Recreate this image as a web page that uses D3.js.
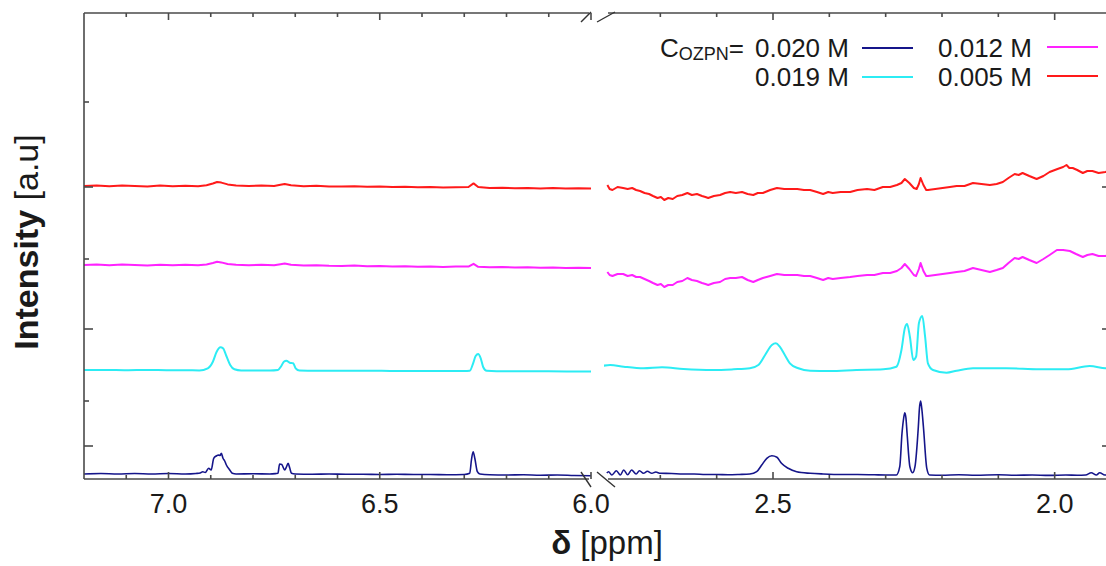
<!DOCTYPE html>
<html>
<head>
<meta charset="utf-8">
<script src="https://cdn.jsdelivr.net/npm/d3@7"></script>
<style>
  body { margin: 0; background: #fff; }
  svg { display: block; }
  text { font-family: "Liberation Sans", Arial, Helvetica, sans-serif; fill: #1a1a1a; }
</style>
</head>
<body>
<svg id="chart" width="1106" height="566"></svg>
<script>
// 1H NMR spectra of OZPN solutions, broken chemical-shift axis (7.2–6.0 | 2.8–1.9 ppm)

const concentrations = ["0.020 M", "0.019 M", "0.012 M", "0.005 M"];

// [chemical shift (ppm), intensity (a.u., stacked)]
const c020Left = [[7.20,0.50],[7.16,0.55],[7.12,0.50],[7.08,0.55],[7.04,0.50],[7.00,0.55],[6.96,0.50],[6.935,0.55],[6.925,0.60],[6.919,0.73],[6.913,0.65],[6.905,1.07],[6.899,0.90],[6.893,2.07],[6.887,2.30],[6.881,2.40],[6.878,2.35],[6.875,2.57],[6.871,2.07],[6.867,1.80],[6.863,1.40],[6.855,0.90],[6.849,0.57],[6.84,0.50],[6.80,0.52],[6.76,0.50],[6.745,0.55],[6.741,0.57],[6.737,1.50],[6.732,1.45],[6.725,0.90],[6.721,1.20],[6.717,1.57],[6.713,1.10],[6.709,0.57],[6.70,0.50],[6.66,0.48],[6.62,0.50],[6.58,0.47],[6.54,0.48],[6.50,0.45],[6.46,0.47],[6.42,0.45],[6.38,0.45],[6.34,0.43],[6.30,0.45],[6.287,0.57],[6.283,1.90],[6.279,2.73],[6.275,2.07],[6.269,0.73],[6.263,0.50],[6.24,0.42],[6.20,0.40],[6.16,0.42],[6.12,0.38],[6.08,0.40],[6.04,0.35],[6.00,0.32]];
const c020Right = [[2.795,0.60],[2.792,0.73],[2.786,0.40],[2.778,0.83],[2.771,0.40],[2.765,0.90],[2.758,0.43],[2.751,0.90],[2.743,0.50],[2.737,0.83],[2.730,0.57],[2.723,0.77],[2.715,0.57],[2.708,0.70],[2.700,0.57],[2.68,0.55],[2.66,0.50],[2.64,0.50],[2.62,0.45],[2.60,0.45],[2.58,0.42],[2.56,0.45],[2.541,0.50],[2.529,0.73],[2.520,1.40],[2.511,2.07],[2.502,2.33],[2.493,2.17],[2.485,1.57],[2.473,1.07],[2.458,0.73],[2.434,0.57],[2.411,0.50],[2.376,0.45],[2.35,0.45],[2.32,0.42],[2.30,0.40],[2.281,0.40],[2.275,1.23],[2.271,4.57],[2.268,6.10],[2.266,6.63],[2.264,6.10],[2.262,4.57],[2.257,1.23],[2.252,0.63],[2.248,1.23],[2.242,5.23],[2.240,7.10],[2.238,7.80],[2.236,7.10],[2.233,5.23],[2.227,1.07],[2.222,0.40],[2.20,0.38],[2.17,0.42],[2.14,0.38],[2.10,0.42],[2.07,0.38],[2.04,0.40],[2.01,0.36],[1.98,0.40],[1.96,0.38],[1.945,0.40],[1.935,0.63],[1.926,0.40],[1.920,0.63],[1.911,0.40],[1.90,0.45]];

const c019Left = [[7.20,10.90],[7.15,10.90],[7.10,10.88],[7.05,10.90],[7.00,10.88],[6.96,10.88],[6.927,10.85],[6.907,11.07],[6.895,11.73],[6.886,12.73],[6.877,13.17],[6.871,13.07],[6.863,12.30],[6.854,11.40],[6.844,10.97],[6.828,10.85],[6.80,10.85],[6.76,10.85],[6.741,10.90],[6.733,11.30],[6.727,11.73],[6.721,11.83],[6.713,11.63],[6.705,11.57],[6.699,11.07],[6.690,10.85],[6.65,10.83],[6.60,10.83],[6.55,10.82],[6.50,10.82],[6.45,10.80],[6.40,10.80],[6.35,10.80],[6.30,10.80],[6.287,10.83],[6.279,11.57],[6.273,12.30],[6.267,12.50],[6.261,12.07],[6.255,11.17],[6.247,10.83],[6.20,10.78],[6.15,10.78],[6.10,10.77],[6.05,10.75],[6.00,10.75]];
const c019Right = [[2.801,11.33],[2.789,11.40],[2.765,11.23],[2.730,11.07],[2.697,11.17],[2.659,11.00],[2.606,10.90],[2.570,10.97],[2.541,11.07],[2.526,11.40],[2.514,12.40],[2.502,13.40],[2.495,13.57],[2.488,13.23],[2.479,12.40],[2.470,11.57],[2.455,11.07],[2.434,10.83],[2.399,10.80],[2.352,10.90],[2.304,10.97],[2.281,11.23],[2.272,12.90],[2.266,15.07],[2.262,15.50],[2.257,14.23],[2.251,11.90],[2.246,12.23],[2.241,15.57],[2.235,16.30],[2.230,14.23],[2.225,11.57],[2.216,10.90],[2.192,10.63],[2.174,10.83],[2.145,11.07],[2.086,11.07],[2.027,10.97],[1.979,10.97],[1.938,11.30],[1.910,11.07],[1.90,11.05]];

const c012Left = [[7.20,21.40],[7.17,21.46],[7.14,21.38],[7.11,21.44],[7.08,21.40],[7.05,21.36],[7.02,21.43],[6.99,21.38],[6.96,21.42],[6.93,21.38],[6.91,21.45],[6.895,21.60],[6.885,21.72],[6.875,21.66],[6.86,21.50],[6.84,21.42],[6.81,21.38],[6.78,21.42],[6.75,21.38],[6.735,21.48],[6.725,21.55],[6.71,21.42],[6.68,21.34],[6.65,21.38],[6.62,21.32],[6.59,21.30],[6.56,21.34],[6.53,21.27],[6.50,21.30],[6.47,21.25],[6.44,21.28],[6.41,21.23],[6.38,21.26],[6.35,21.20],[6.32,21.24],[6.29,21.24],[6.278,21.52],[6.267,21.22],[6.24,21.18],[6.21,21.20],[6.18,21.14],[6.15,21.17],[6.12,21.12],[6.09,21.15],[6.06,21.10],[6.03,21.13],[6.00,21.10]];
const c012Right = [[2.794,20.7],[2.790,20.4],[2.785,20.3],[2.776,20.5],[2.766,20.5],[2.758,20.3],[2.750,20.4],[2.743,20.2],[2.736,20.2],[2.728,20.0],[2.720,19.8],[2.713,19.6],[2.705,19.4],[2.699,19.5],[2.693,19.2],[2.686,19.4],[2.678,19.4],[2.670,19.7],[2.661,19.8],[2.652,20.1],[2.644,19.9],[2.635,19.8],[2.626,19.6],[2.620,19.5],[2.615,19.4],[2.605,19.6],[2.594,19.7],[2.585,20.0],[2.576,20.1],[2.566,20.1],[2.555,20.2],[2.545,19.9],[2.535,19.7],[2.527,19.9],[2.518,20.1],[2.505,20.3],[2.493,20.5],[2.480,20.4],[2.470,20.4],[2.457,20.4],[2.445,20.3],[2.434,20.3],[2.422,20.1],[2.411,19.9],[2.402,20.1],[2.394,20.0],[2.380,20.1],[2.363,20.2],[2.350,20.3],[2.333,20.4],[2.320,20.4],[2.305,20.6],[2.292,20.6],[2.280,20.8],[2.272,21.1],[2.266,21.5],[2.258,21.0],[2.250,20.4],[2.246,20.3],[2.241,21.0],[2.238,21.6],[2.233,20.8],[2.228,20.3],[2.225,20.3],[2.212,20.4],[2.199,20.5],[2.186,20.6],[2.174,20.7],[2.160,20.8],[2.145,21.1],[2.130,20.9],[2.115,20.7],[2.103,20.9],[2.092,21.1],[2.082,21.6],[2.071,22.1],[2.064,22.0],[2.057,22.2],[2.045,21.9],[2.032,21.6],[2.020,22.0],[2.009,22.4],[1.996,22.9],[1.985,22.9],[1.973,22.8],[1.962,22.5],[1.950,22.2],[1.942,22.4],[1.933,22.5],[1.922,22.3],[1.910,22.3],[1.90,22.4]];

const c005Left = [[7.20,29.30],[7.17,29.36],[7.14,29.28],[7.11,29.34],[7.08,29.30],[7.05,29.26],[7.02,29.34],[6.99,29.28],[6.96,29.32],[6.93,29.28],[6.91,29.38],[6.895,29.55],[6.885,29.70],[6.875,29.64],[6.86,29.46],[6.84,29.36],[6.81,29.30],[6.78,29.34],[6.75,29.30],[6.735,29.42],[6.725,29.50],[6.71,29.38],[6.68,29.28],[6.65,29.32],[6.62,29.26],[6.59,29.24],[6.56,29.28],[6.53,29.22],[6.50,29.25],[6.47,29.19],[6.44,29.22],[6.41,29.18],[6.38,29.20],[6.35,29.15],[6.32,29.18],[6.29,29.20],[6.278,29.56],[6.267,29.20],[6.24,29.10],[6.21,29.13],[6.18,29.08],[6.15,29.11],[6.12,29.05],[6.09,29.09],[6.06,29.04],[6.03,29.07],[6.00,29.05]];
const c005Right = [[2.794,29.4],[2.790,29.0],[2.785,28.9],[2.776,29.2],[2.766,29.1],[2.758,29.0],[2.750,29.1],[2.743,28.9],[2.736,28.8],[2.728,28.6],[2.720,28.5],[2.713,28.3],[2.705,28.1],[2.699,28.2],[2.693,27.9],[2.686,28.1],[2.678,28.0],[2.670,28.3],[2.661,28.4],[2.652,28.6],[2.644,28.4],[2.635,28.5],[2.626,28.3],[2.620,28.2],[2.615,28.1],[2.605,28.3],[2.594,28.4],[2.585,28.6],[2.576,28.7],[2.566,28.6],[2.555,28.7],[2.545,28.5],[2.535,28.4],[2.527,28.6],[2.518,28.6],[2.505,28.9],[2.493,29.1],[2.480,29.0],[2.470,29.0],[2.457,29.0],[2.445,28.9],[2.434,28.9],[2.422,28.7],[2.411,28.5],[2.402,28.7],[2.394,28.6],[2.380,28.7],[2.363,28.7],[2.350,28.9],[2.333,29.0],[2.320,28.9],[2.305,29.2],[2.292,29.2],[2.280,29.4],[2.272,29.6],[2.266,30.0],[2.258,29.6],[2.250,29.1],[2.245,29.0],[2.241,29.5],[2.238,30.1],[2.233,29.4],[2.228,28.9],[2.225,28.9],[2.212,29.0],[2.199,29.1],[2.186,29.2],[2.174,29.3],[2.160,29.3],[2.145,29.6],[2.130,29.5],[2.115,29.4],[2.103,29.5],[2.092,29.7],[2.082,30.1],[2.071,30.5],[2.064,30.4],[2.057,30.6],[2.045,30.3],[2.032,30.0],[2.020,30.3],[2.009,30.7],[1.995,31.0],[1.985,31.2],[1.979,31.4],[1.974,31.1],[1.968,31.1],[1.960,30.9],[1.950,30.6],[1.942,30.8],[1.933,30.8],[1.922,30.6],[1.910,30.7],[1.90,30.8]];

// axis ticks
const leftMajorTicks = [7.0, 6.5, 6.0];
const leftMinorTicks = [7.1, 6.9, 6.8, 6.7, 6.6, 6.4, 6.3, 6.2, 6.1];
const rightMajorTicks = [2.5, 2.0];
const rightMinorTicks = [2.7, 2.6, 2.4, 2.3, 2.2, 2.1];
const yMajorTicks = [3.3, 15.0, 29.2];
const yMinorTicks = [7.8, 22.0, 37.7];

const colors = ["#15158a", "#2cecf4", "#ff22ff", "#ff1a1a"];
const seriesData = [
  { left: c020Left, right: c020Right, smooth: true },
  { left: c019Left, right: c019Right, smooth: true },
  { left: c012Left, right: c012Right, smooth: false },
  { left: c005Left, right: c005Right, smooth: false }
];

const svg = d3.select("#chart");
const plot = { left: 84, right: 1111, top: 13, bottom: 479 };
const breakGap = 13;
const segW = (plot.right - plot.left - breakGap) / 2;

const xL = d3.scaleLinear().domain([7.2, 6.0]).range([plot.left, plot.left + segW]);
const xR = d3.scaleLinear().domain([2.8, 1.9]).range([plot.right - segW, plot.right]);
const y = d3.scaleLinear().domain([0, 46.6]).range([plot.bottom, plot.top]);

const defs = svg.append("defs");
[["clipL", xL], ["clipR", xR]].forEach(([id, sc]) => {
  const r = sc.range();
  defs.append("clipPath").attr("id", id).append("rect")
    .attr("x", r[0]).attr("y", plot.top).attr("width", r[1] - r[0]).attr("height", plot.bottom - plot.top);
});

// spectra
seriesData.forEach((s, i) => {
  [["left", xL, "clipL"], ["right", xR, "clipR"]].forEach(([key, sc, clip]) => {
    const line = d3.line().x(d => sc(d[0])).y(d => y(d[1]))
      .curve(s.smooth ? d3.curveMonotoneX : d3.curveLinear);
    svg.append("path").datum(s[key])
      .attr("clip-path", `url(#${clip})`)
      .attr("d", line)
      .attr("fill", "none")
      .attr("stroke", colors[i])
      .attr("stroke-width", i === 0 ? 1.6 : 2)
      .attr("stroke-linejoin", "round");
  });
});

// frame
const axisColor = "#4a4a4a";
const frame = svg.append("g").attr("stroke", axisColor).attr("stroke-width", 1.6).attr("fill", "none");
const lEnd = xL.range()[1], rStart = xR.range()[0];
frame.append("line").attr("x1", plot.left).attr("x2", plot.left).attr("y1", plot.top).attr("y2", plot.bottom);
frame.append("line").attr("x1", plot.right).attr("x2", plot.right).attr("y1", plot.top).attr("y2", plot.bottom);
[plot.top, plot.bottom].forEach(yy => {
  frame.append("line").attr("x1", plot.left).attr("x2", lEnd - 2).attr("y1", yy).attr("y2", yy);
  frame.append("line").attr("x1", rStart + 4).attr("x2", plot.right).attr("y1", yy).attr("y2", yy);
});

// axis break marks
const brk = svg.append("g").attr("stroke", "#333").attr("stroke-width", 1.4);
[[lEnd - 10, 10], [lEnd + 6, 18]].forEach(([x0, w]) => {
  brk.append("line").attr("x1", x0).attr("y1", plot.top + 9).attr("x2", x0 + w).attr("y2", plot.top - 1);
  brk.append("line").attr("x1", x0).attr("y1", plot.bottom - 7).attr("x2", x0 + w).attr("y2", plot.bottom + 8);
});

// x ticks (inside, top and bottom)
function xTicks(sc, vals, len) {
  vals.forEach(v => {
    const xx = sc(v);
    frame.append("line").attr("x1", xx).attr("x2", xx).attr("y1", plot.bottom).attr("y2", plot.bottom - len);
    frame.append("line").attr("x1", xx).attr("x2", xx).attr("y1", plot.top).attr("y2", plot.top + len);
  });
}
xTicks(xL, leftMajorTicks, 7); xTicks(xL, leftMinorTicks, 4);
xTicks(xR, rightMajorTicks, 7); xTicks(xR, rightMinorTicks, 4);

// y ticks (inside, left and right)
function yTicks(vals, len) {
  vals.forEach(v => {
    const yy = y(v);
    frame.append("line").attr("x1", plot.left).attr("x2", plot.left + len).attr("y1", yy).attr("y2", yy);
    frame.append("line").attr("x1", plot.right).attr("x2", plot.right - len).attr("y1", yy).attr("y2", yy);
  });
}
yTicks(yMajorTicks, 9); yTicks(yMinorTicks, 5);

// tick labels
const tickFont = 27;
[[xL, leftMajorTicks], [xR, rightMajorTicks]].forEach(([sc, vals]) => {
  svg.append("g").selectAll("text").data(vals).join("text")
    .attr("x", d => sc(d)).attr("y", 513)
    .attr("text-anchor", "middle").attr("font-size", tickFont)
    .text(d => d3.format(".1f")(d));
});

// axis titles
const xTitle = svg.append("text").attr("x", 607).attr("y", 554).attr("text-anchor", "middle").attr("font-size", 33);
xTitle.append("tspan").attr("font-weight", "bold").text("δ");
xTitle.append("tspan").text(" [ppm]");

const yTitle = svg.append("text").attr("transform", "translate(38,242) rotate(-90)").attr("text-anchor", "middle").attr("font-size", 34);
yTitle.append("tspan").attr("font-weight", "bold").text("Intensity");
yTitle.append("tspan").text(" [a.u]");

// legend
const legend = svg.append("g");
const lab = legend.append("text").attr("x", 660).attr("y", 57).attr("font-size", 26);
lab.append("tspan").text("C");
lab.append("tspan").attr("font-size", 18).attr("dy", 3).text("OZPN");
lab.append("tspan").attr("dy", -3).text("=");

const legendPos = [
  { tx: 755, ty: 57, lx: 862, ly: 48 },
  { tx: 755, ty: 86, lx: 862, ly: 77 },
  { tx: 938, ty: 57, lx: 1047, ly: 47 },
  { tx: 938, ty: 86, lx: 1047, ly: 76 }
];
concentrations.forEach((c, i) => {
  const p = legendPos[i];
  legend.append("text").attr("x", p.tx).attr("y", p.ty).attr("font-size", 26).text(c);
  legend.append("line").attr("x1", p.lx).attr("x2", p.lx + 51).attr("y1", p.ly).attr("y2", p.ly)
    .attr("stroke", colors[i]).attr("stroke-width", 2.2);
});
</script>
</body>
</html>
